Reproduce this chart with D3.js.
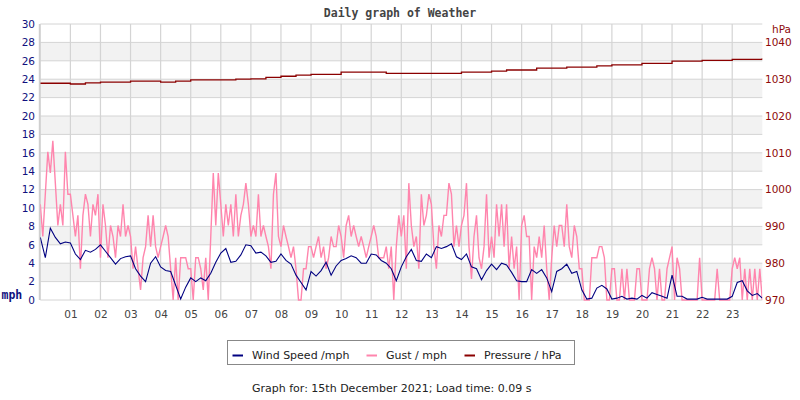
<!DOCTYPE html>
<html>
<head>
<meta charset="utf-8">
<script src="https://cdn.jsdelivr.net/npm/d3@7"></script>
<style>
body { margin: 0; background: #fff; }
svg { display: block; }
</style>
</head>
<body>
<svg id="chart" width="800" height="400"></svg>
<script>

// hour labels along the bottom
var hourLabels = ['01','02','03','04','05','06','07','08','09','10','11','12',
	'13','14','15','16','17','18','19','20','21','22','23'];
var mphTicks = [0,2,4,6,8,10,12,14,16,18,20,22,24,26,28,30];
var hpaTicks = [970,980,990,1000,1010,1020,1030,1040];

// wind speed, one reading every 10 minutes (mph)
var wind = [
	6.8,4.6,7.8,6.8,6.1,6.3,6.2,5.0,4.4,5.4,5.2,5.5,6.0,5.3,4.6,3.9,4.5,4.7,4.8,3.4,2.6,2.0,4.0,4.7,
	3.6,3.2,3.1,1.6,0.1,1.4,2.4,2.0,2.4,2.1,2.9,4.1,5.1,5.6,4.1,4.2,4.9,6.0,5.9,5.1,5.2,4.8,4.1,4.2,
	5.0,4.3,3.9,2.7,1.9,1.1,3.1,2.6,3.2,4.1,2.7,3.7,4.3,4.5,4.8,4.6,4.0,4.0,5.0,4.9,4.3,4.0,3.4,2.1,
	3.6,4.7,5.5,4.3,4.2,5.0,4.6,5.8,5.6,5.8,6.1,4.7,4.4,5.0,3.6,3.4,2.2,3.2,3.9,3.3,4.0,3.8,3.0,2.1,
	2.0,2.0,3.3,2.9,3.3,2.4,0.9,3.1,3.4,3.9,2.9,3.1,1.1,0.1,0.2,1.3,1.6,1.2,0.1,0.2,0.4,0.1,0.2,0.1,
	0.5,0.2,0.8,0.6,0.4,0.2,2.7,0.4,0.4,0.1,0.1,0.1,0.3,0.1,0.1,0.1,0.1,0.1,0.4,1.9,2.1,1.0,0.5,0.7,0.2
];

// gust, one reading every 5 minutes (mph)
var gust = [
	10.4,6.9,11.5,16.1,13.8,17.3,12.7,8.1,10.4,8.1,16.1,11.5,
	11.5,9.2,6.9,9.2,3.4,9.2,11.5,10.4,6.9,10.4,9.2,11.5,
	4.6,10.4,8.1,4.6,8.1,6.9,4.6,8.1,6.9,10.4,6.9,8.1,
	6.9,3.4,5.8,3.4,1.1,4.6,5.8,9.2,5.8,9.2,5.8,4.6,
	5.8,6.9,8.1,6.9,3.4,0,4.6,0,4.6,4.6,4.6,3.4,
	3.4,0,4.6,4.6,3.4,1.1,4.6,0,6.9,13.8,8.1,13.8,
	10.4,6.9,10.4,8.1,10.4,6.9,11.5,6.9,9.2,10.4,12.7,10.4,
	6.9,8.1,6.9,11.5,6.9,8.1,6.9,5.8,3.4,11.5,13.8,6.9,
	5.8,8.1,6.9,5.8,4.6,5.8,3.4,0,0,3.4,3.4,5.8,
	5.8,4.6,5.8,6.9,4.6,5.8,3.4,4.6,6.9,5.8,5.8,8.1,
	6.9,4.6,8.1,9.2,6.9,8.1,6.9,5.8,6.9,5.8,4.6,5.8,
	6.9,8.1,6.9,4.6,4.6,4.6,5.8,3.4,5.8,0,5.8,9.2,
	6.9,9.2,3.4,12.7,8.1,5.8,6.9,3.4,11.5,8.1,9.2,11.5,
	10.4,5.8,3.4,8.1,6.9,9.2,9.2,12.7,11.5,5.8,8.1,5.8,
	8.1,9.2,12.7,5.8,2.3,6.9,9.2,4.6,3.4,5.8,11.5,4.6,
	6.9,4.6,10.4,6.9,10.4,5.8,10.4,3.4,6.9,3.4,5.8,0,
	8.1,9.2,6.9,6.9,0,5.8,4.6,6.9,4.6,8.1,3.4,0,
	4.6,8.1,5.8,8.1,8.1,5.8,10.4,5.8,4.6,8.1,6.9,3.4,
	3.4,0,0,0,4.6,4.6,4.6,5.8,5.8,4.6,0,0,
	3.4,3.4,0,0,3.4,0,3.4,0,0,0,3.4,3.4,
	0,0,0,3.4,4.6,3.4,0,3.4,0,0,3.4,4.6,
	5.8,0,4.6,3.4,0,0,0,0,0,0,0,4.6,
	0,0,0,0,0,0,3.4,0,0,0,0,0,
	3.4,4.6,3.4,4.6,0,3.4,0,3.4,0,3.4,0,3.4,
	0
];

// pressure, every 30 minutes (hPa)
var pressure = [
	1028.9,1028.9,1028.7,1029.0,1029.2,1029.2,1029.5,1029.5,1029.2,1029.5,
	1029.8,1029.8,1029.8,1030.0,1030.1,1030.5,1030.8,1031.1,1031.3,1031.3,
	1031.9,1031.9,1031.9,1031.6,1031.6,1031.6,1031.6,1031.6,1031.9,1031.9,
	1032.2,1032.5,1032.5,1033.0,1033.0,1033.3,1033.3,1033.6,1033.9,1033.9,
	1034.3,1034.3,1034.9,1034.9,1035.1,1035.1,1035.4,1035.4,1035.7
];

var w = 800;
var h = 400;
var pLeft = 40.3, pRight = 762.3, pTop = 24, pBottom = 300;

var svg = d3.select('#chart');

var x = d3.scaleLinear().domain([0, 24]).range([pLeft, pRight]);
var y = d3.scaleLinear().domain([0, 30]).range([pBottom, pTop]);
var yP = d3.scaleLinear().domain([970, 1045]).range([pBottom, pTop]);

// alternate grey bands
svg.append('g')
	.selectAll('rect')
	.data(mphTicks.filter(d => d % 4 == 2 && d < 30))
	.enter()
	.append('rect')
	.attr('x', pLeft)
	.attr('width', pRight - pLeft)
	.attr('y', d => y(d + 2))
	.attr('height', d => y(d) - y(d + 2))
	.attr('fill', '#f2f2f2');

// grid
svg.append('g')
	.selectAll('line')
	.data(mphTicks)
	.enter()
	.append('line')
	.attr('x1', pLeft).attr('x2', pRight)
	.attr('y1', d => y(d)).attr('y2', d => y(d))
	.style('stroke', '#d4d4d4')
	.style('stroke-width', '1px');

svg.append('g')
	.selectAll('line')
	.data(hourLabels.map((d, i) => i + 1))
	.enter()
	.append('line')
	.attr('x1', d => x(d)).attr('x2', d => x(d))
	.attr('y1', pTop).attr('y2', pBottom)
	.style('stroke', '#d4d4d4')
	.style('stroke-width', '1.2px');

svg.append('line')
	.attr('x1', pLeft - 0.5).attr('x2', pLeft - 0.5)
	.attr('y1', pTop).attr('y2', pBottom)
	.style('stroke', '#cfcfcf')
	.style('stroke-width', '2px');

// axes
function styleAxis(g, colour) {
	g.select('.domain').remove();
	g.selectAll('text')
		.attr('fill', colour)
		.style('font-family', 'DejaVu Sans')
		.style('font-size', '10.5px');
}

svg.append('g')
	.attr('transform', 'translate(35,0)')
	.call(d3.axisLeft(y).tickValues(mphTicks).tickSize(0).tickPadding(0))
	.call(g => styleAxis(g, '#10107e'));

svg.append('g')
	.attr('transform', 'translate(765,0)')
	.call(d3.axisRight(yP).tickValues(hpaTicks).tickFormat(d3.format('d'))
		.tickSize(0).tickPadding(0))
	.call(g => styleAxis(g, '#8e0a0a'));

svg.append('g')
	.attr('transform', 'translate(0,' + pBottom + ')')
	.call(d3.axisBottom(x).tickValues(hourLabels.map((d, i) => i + 1))
		.tickFormat(d => hourLabels[d - 1]).tickSize(0).tickPadding(11))
	.call(g => styleAxis(g, '#444'));

svg.append('text')
	.attr('x', 1.5).attr('y', 299)
	.attr('fill', '#10107e')
	.style('font-family', 'DejaVu Sans Mono')
	.style('font-weight', 'bold')
	.style('font-size', '11.5px')
	.text('mph');

svg.append('text')
	.attr('x', 772).attr('y', 32.5)
	.attr('fill', '#8e0a0a')
	.style('font-family', 'DejaVu Sans')
	.style('font-size', '10.5px')
	.text('hPa');

svg.append('text')
	.attr('x', 400).attr('y', 17)
	.attr('text-anchor', 'middle')
	.attr('fill', '#444')
	.style('font-family', 'DejaVu Sans Mono')
	.style('font-weight', 'bold')
	.style('font-size', '11.5px')
	.text('Daily graph of Weather');

// series
svg.append('clipPath').attr('id', 'plotclip')
	.append('rect').attr('x', pLeft).attr('y', pTop - 2)
	.attr('width', pRight - pLeft).attr('height', pBottom - pTop + 3);

var plot = svg.append('g').attr('clip-path', 'url(#plotclip)');

var gustLine = d3.line()
	.x((d, i) => x(i / 12))
	.y(d => y(d));

var windLine = d3.line()
	.x((d, i) => x(i / 6))
	.y(d => y(d));

var pressLine = d3.line()
	.curve(d3.curveStepAfter)
	.x((d, i) => x(i / 2))
	.y(d => yP(d));

plot.append('path')
	.attr('d', gustLine(gust))
	.attr('fill', 'none')
	.style('stroke', '#ff85ad')
	.style('stroke-width', '1.4px');

plot.append('path')
	.attr('d', windLine(wind))
	.attr('fill', 'none')
	.style('stroke', '#000080')
	.style('stroke-width', '1.1px');

plot.append('path')
	.attr('d', pressLine(pressure))
	.attr('fill', 'none')
	.style('stroke', '#8b0000')
	.style('stroke-width', '1.3px');

// legend
var legendItems = [
	{ label: 'Wind Speed /mph', colour: '#000080', x: 232.5 },
	{ label: 'Gust / mph', colour: '#ff85ad', x: 366.5 },
	{ label: 'Pressure / hPa', colour: '#8b0000', x: 464.5 }
];

svg.append('rect')
	.attr('x', 227.5).attr('y', 340.5)
	.attr('width', 347).attr('height', 24)
	.attr('fill', 'none')
	.style('stroke', '#888')
	.style('stroke-width', '1px');

var lg = svg.append('g')
	.selectAll('g')
	.data(legendItems)
	.enter()
	.append('g');

lg.append('line')
	.attr('x1', d => d.x).attr('x2', d => d.x + 10.5)
	.attr('y1', 355.5).attr('y2', 355.5)
	.style('stroke', d => d.colour)
	.style('stroke-width', '2px');

lg.append('text')
	.attr('x', d => d.x + 19.5).attr('y', 358.5)
	.attr('fill', '#222')
	.style('font-family', 'DejaVu Sans')
	.style('font-size', '11px')
	.text(d => d.label);

svg.append('text')
	.attr('x', 252).attr('y', 392)
	.attr('fill', '#222')
	.style('font-family', 'DejaVu Sans')
	.style('font-size', '11px')
	.text('Graph for: 15th December 2021; Load time: 0.09 s');

</script>
</body>
</html>
